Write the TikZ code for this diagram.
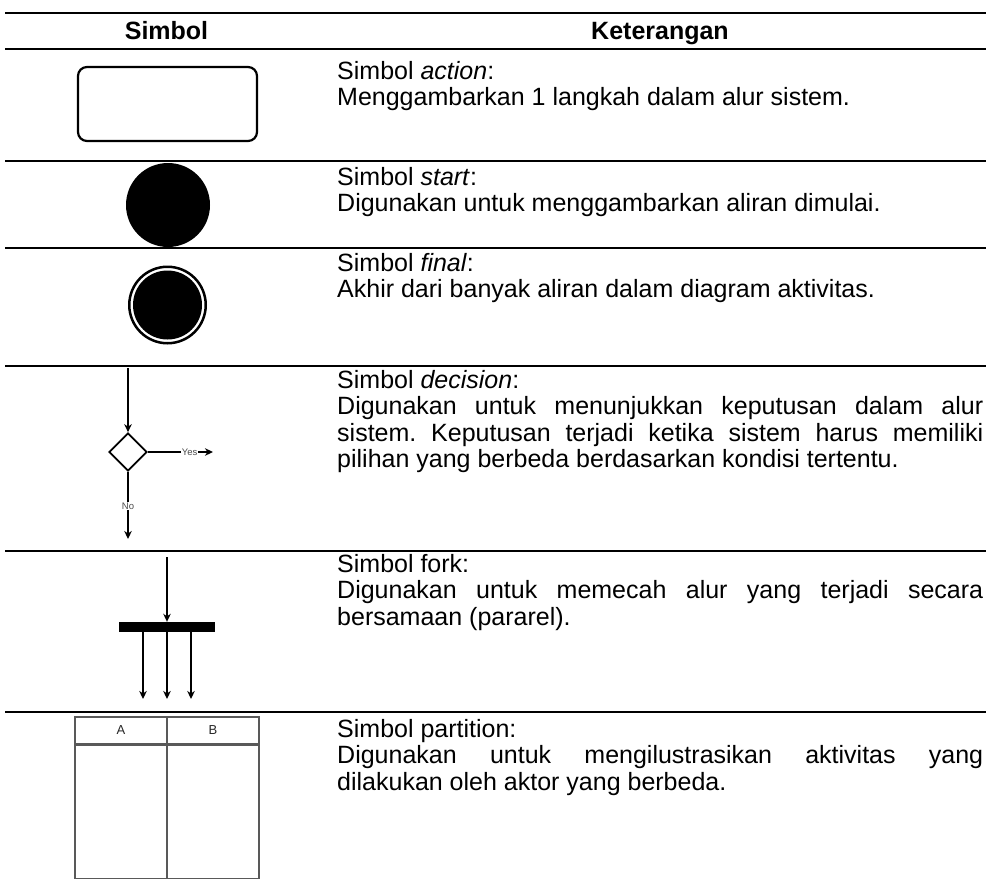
\documentclass[tikz,border=0pt]{standalone}
\usepackage{fontspec}
\setmainfont{Liberation Sans}
\usetikzlibrary{arrows.meta,shapes.geometric}
\frenchspacing

% one justified line of the description column
\newcommand\jline[1]{\makebox[646pt][s]{#1}}

\tikzset{
  rule/.style={line width=2.4pt},
  body/.style={anchor=base west, inner sep=0pt, font=\fontsize{25}{26.5}\selectfont},
  head/.style={anchor=base, inner sep=0pt, font=\fontsize{25}{27}\selectfont\bfseries},
  flow/.style={line width=1.5pt, -{Stealth[length=8pt,width=7.5pt,inset=2.5pt]}},
  tag/.style={fill=white, inner sep=1pt, font=\fontsize{9.5}{10}\selectfont, text=black!70},
  lane/.style={draw=black!65, line width=1.3pt, inner sep=0pt, minimum width=92pt,
               font=\fontsize{13}{14}\selectfont, text=black!85},
}

\begin{document}
\begin{tikzpicture}[x=1pt, y=-1pt]
\useasboundingbox (0,0) rectangle (990,878);

% table rules
\foreach \yy in {13,49,161,248,366,551,712}
  \draw[rule] (5,\yy) -- (986,\yy);

% header
\node[head] (hsym) at (166.5,39) {Simbol};
\node[head] (hdesc) at (660,39) {Keterangan};

% action
\node[draw, line width=2.2pt, rounded corners=9pt, minimum width=179pt,
      minimum height=74pt, inner sep=0pt] (act) at (167.5,104) {};
\node[body] (tact) at (337,79) {\parbox[t]{646pt}{Simbol \textit{action}:\\
  Menggambarkan 1 langkah dalam alur sistem.}};

% start
\node[circle, fill=black, minimum size=84pt, inner sep=0pt] (start) at (168,205) {};
\node[body] (tstart) at (337,185) {\parbox[t]{646pt}{Simbol \textit{start}:\\
  Digunakan untuk menggambarkan aliran dimulai.}};

% final
\node[circle, draw, line width=2.5pt, minimum size=76.5pt, inner sep=0pt] (fin) at (167.5,305) {};
\node[circle, fill=black, minimum size=69pt, inner sep=0pt] (fincore) at (fin.center) {};
\node[body] (tfin) at (337,271) {\parbox[t]{646pt}{Simbol \textit{final}:\\
  Akhir dari banyak aliran dalam diagram aktivitas.}};

% decision
\coordinate (din) at (128,368);
\node[diamond, draw, line width=1.7pt, minimum width=38pt, minimum height=38pt,
      inner sep=0pt] (dec) at (128,452) {};
\coordinate (dyes) at (213,452);
\coordinate (dno) at (128,539);
\draw[flow] (din) -- (dec.north);
\draw[flow] (dec.east) -- node[tag, pos=0.64] (lyes) {Yes} (dyes);
\draw[flow] (dec.south) -- node[tag, pos=0.51] (lno) {No} (dno);
\node[body] (tdec) at (337,388) {\parbox[t]{646pt}{Simbol \textit{decision}:\\
  \jline{Digunakan untuk menunjukkan keputusan dalam alur}\\
  \jline{sistem. Keputusan terjadi ketika sistem harus memiliki}\\
  pilihan yang berbeda berdasarkan kondisi tertentu.}};

% fork
\coordinate (fin0) at (167,557);
\node[fill=black, minimum width=96pt, minimum height=10pt, inner sep=0pt] (bar) at (167,627) {};
\coordinate (f1) at (143,699);
\coordinate (f2) at (167,699);
\coordinate (f3) at (191,699);
\draw[flow] (fin0) -- (bar.north);
\foreach \f in {f1,f2,f3}
  \draw[flow] (bar.south -| \f) -- (\f);
\node[body] (tfork) at (337,572) {\parbox[t]{646pt}{Simbol fork:\\
  \jline{Digunakan untuk memecah alur yang terjadi secara}\\
  bersamaan (pararel).}};

% partition
\node[lane, minimum height=27pt] (pa) at (121,730.5) {A};
\node[lane, minimum height=27pt] (pb) at (213,730.5) {B};
\node[lane, minimum height=133pt, anchor=north] (la) at (pa.south) {};
\node[lane, minimum height=133pt, anchor=north] (lb) at (pb.south) {};
\node[body] (tpart) at (337,737) {\parbox[t]{646pt}{Simbol partition:\\
  \jline{Digunakan untuk mengilustrasikan aktivitas yang}\\
  dilakukan oleh aktor yang berbeda.}};
\end{tikzpicture}
\end{document}
